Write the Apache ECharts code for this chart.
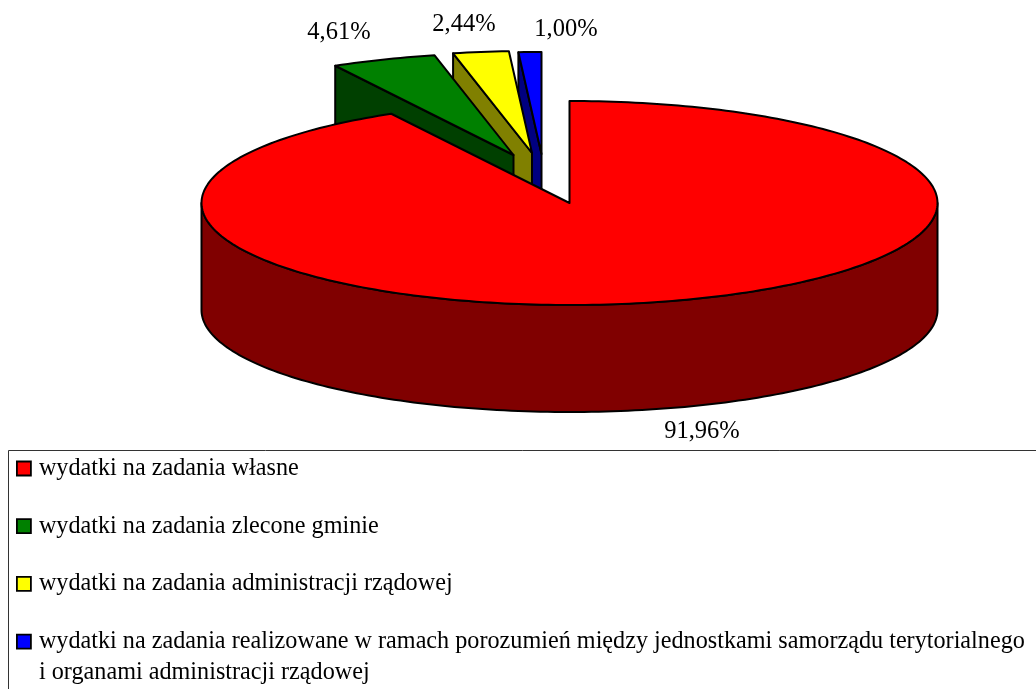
<!DOCTYPE html>
<html><head><meta charset="utf-8">
<style>html,body{margin:0;padding:0;background:#fff}#c{width:1036px;height:689px}</style>
<script src="https://cdn.jsdelivr.net/npm/echarts@6/dist/echarts.min.js"></script>
</head><body><div id="c"></div>
<script>
const categories = [
  'wydatki na zadania własne',
  'wydatki na zadania zlecone gminie',
  'wydatki na zadania administracji rządowej',
  'wydatki na zadania realizowane w ramach porozumień między jednostkami samorządu terytorialnego\ni organami administracji rządowej'
];
const values = [91.96, 4.61, 2.44, 1.00];
const topColors = ['#ff0000', '#008000', '#ffff00', '#0000ff'];
const sideColors = ['#800000', '#004000', '#808000', '#000080'];

// pie geometry, in pixels
const pie = {cx: 569.5, cy: 203, rx: 368, ry: 102, depth: 107};
const explode = [[0, 0], [-56, -48], [-37.5, -50], [-28, -49]];
const labelPos = [[702, 432], [339, 33], [464, 25], [566, 30]];
const FONT = '"Liberation Serif","Times New Roman",serif';

const total = values.reduce((a, b) => a + b, 0);
let acc = 0;
const spans = values.map(v => { const s = acc; acc += v; return [s / total * 2 * Math.PI, acc / total * 2 * Math.PI]; });

function pt(c, t) { return [c[0] + pie.rx * Math.sin(t), c[1] - pie.ry * Math.cos(t)]; }
function arc(c, a, b) {
  const n = Math.max(2, Math.ceil(Math.abs(b - a) / 0.02)), out = [];
  for (let i = 0; i <= n; i++) out.push(pt(c, a + (b - a) * i / n));
  return out;
}
function down(p) { return [p[0], p[1] + pie.depth]; }
const edge = {stroke: '#000', lineWidth: 2, lineJoin: 'round'};

function renderSlice(i) {
  return function (params, api) {
    const value = api.value(0);
    const c = [pie.cx + explode[i][0], pie.cy + explode[i][1]];
    const [a, b] = spans[i];
    const top = [c].concat(arc(c, a, b));
    const children = [];
    if (i === 0) {
      const front = arc(c, Math.PI / 2, 3 * Math.PI / 2);
      children.push({type: 'polygon', shape: {points: front.concat(front.slice().reverse().map(down))},
        style: Object.assign({fill: sideColors[i]}, edge)});
    } else {
      const outer = pt(c, a);
      children.push({type: 'polygon', shape: {points: [outer, c, down(c), down(outer)]},
        style: Object.assign({fill: sideColors[i]}, edge)});
    }
    children.push({type: 'polygon', shape: {points: top}, style: Object.assign({fill: topColors[i]}, edge)});
    children.push({type: 'text', style: {
      text: value.toFixed(2).replace('.', ',') + '%', x: labelPos[i][0], y: labelPos[i][1],
      align: 'center', verticalAlign: 'middle', fill: '#000', font: '24.5px ' + FONT}});
    return {type: 'group', children};
  };
}

const chart = echarts.init(document.getElementById('c'), null, {renderer: 'canvas'});
chart.setOption({
  animation: false,
  backgroundColor: '#fff',
  legend: {
    orient: 'vertical', left: 16, top: 456.5, padding: 0,
    itemWidth: 14, itemHeight: 14, itemGap: 33.7, icon: 'rect', selectedMode: false,
    data: categories,
    itemStyle: {borderColor: '#000', borderWidth: 1.8},
    formatter: n => n.split('\n')[0],
    textStyle: {fontFamily: FONT, fontSize: 24.2, color: '#000', padding: [0, 0, 0, 3]}
  },
  graphic: [
    {type: 'rect', silent: true, z: -1, shape: {x: 8.5, y: 450.5, width: 1200, height: 400},
      style: {fill: 'none', stroke: '#333', lineWidth: 1}},
    {type: 'text', silent: true, style: {text: categories[3].split('\n')[1], x: 39, y: 673,
      verticalAlign: 'middle', fill: '#000', font: '24.2px ' + FONT}}
  ],
  series: categories.map((name, i) => ({
    type: 'custom', name, coordinateSystem: 'none', z: 10 - i, silent: true,
    itemStyle: {color: topColors[i]},
    renderItem: renderSlice(i),
    data: [[values[i]]]
  }))
});
</script></body></html>
